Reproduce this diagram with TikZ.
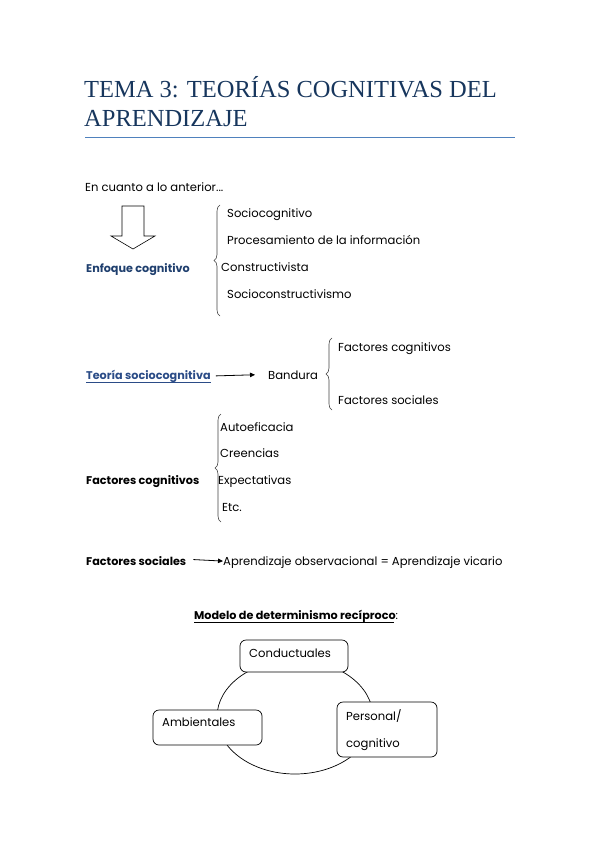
\documentclass[tikz,border=0pt]{standalone}
\usepackage{fontspec}
\setmainfont{Poppins}
\newfontfamily\titlefont{Liberation Serif}
\usetikzlibrary{decorations.pathreplacing,calc,arrows.meta}
\definecolor{titleblue}{HTML}{17365D}
\definecolor{ruleblue}{HTML}{4F81BD}
\definecolor{headblue}{HTML}{1F3F6E}
\definecolor{linkblue}{HTML}{2B4C87}
\begin{document}
\begin{tikzpicture}[x=1pt,y=-1pt,
  txt/.style={inner sep=0pt,anchor=base west,font=\fontsize{11.6}{13}\selectfont},
  btxt/.style={txt,font=\fontsize{11.2}{13}\selectfont\bfseries},
  bracedec/.style={decorate,decoration={brace,amplitude=6pt},line width=0.6pt,black!75},
  conn/.style={-{Triangle[length=5pt,width=4.5pt]},line width=0.8pt},
  boxst/.style={draw,rounded corners=6pt,fill=white,line width=0.7pt}]
\useasboundingbox (0,0) rectangle (599,848);
% title
\node[inner sep=0pt,anchor=base west,font=\titlefont\fontsize{24.5}{30}\selectfont,text=titleblue] (t1) at (84,98) {TEMA 3: TEORÍAS COGNITIVAS DEL};
\node[inner sep=0pt,anchor=base west,font=\titlefont\fontsize{24.5}{30}\selectfont,text=titleblue] (t2) at (84,127) {APRENDIZAJE};
\draw[ruleblue,line width=1pt] (85,137) coordinate (r1) -- (515,137) coordinate (r2);
% section 1
\node[txt] (intro) at (85,191) {En cuanto a lo anterior...};
\draw[line width=0.6pt] (122,206) -- (144,206) -- (144,236) -- (155,236) -- (133,249) -- (111,236) -- (122,236) -- cycle;
\node[btxt,text=headblue] (enf) at (86,272) {Enfoque cognitivo};
\draw[bracedec] (220,316) coordinate (b1s) -- (220,205) coordinate (b1e);
\node[txt] (i1) at (227,217) {Sociocognitivo};
\node[txt] (i2) at (227,244) {Procesamiento de la información};
\node[txt] (i3) at (221,271) {Constructivista};
\node[txt] (i4) at (227,298) {Socioconstructivismo};
% section 2
\node[btxt,text=linkblue] (teo) at (86,379) {Teoría sociocognitiva};
\draw[linkblue,line width=0.6pt] ($(teo.base west)+(0,3)$) -- ($(teo.base east)+(0,3)$);
\node[txt] (band) at (268,379) {Bandura};
\draw[conn] ($(teo.east)+(5,0)$) -- ($(band.west)+(-13,0)$);
\draw[bracedec] (332,410) coordinate (b2s) -- (332,338) coordinate (b2e);
\node[txt] (fc1) at (338,351) {Factores cognitivos};
\node[txt] (fs1) at (338,404) {Factores sociales};
% section 3
\node[btxt] (fc) at (86,484) {Factores cognitivos};
\draw[bracedec] (221,522) coordinate (b3s) -- (221,414) coordinate (b3e);
\node[txt] (a1) at (220,431) {Autoeficacia};
\node[txt] (a2) at (220,457) {Creencias};
\node[txt] (a3) at (218,484) {Expectativas};
\node[txt] (a4) at (222,511) {Etc.};
% section 4
\node[btxt] (fs) at (86,565) {Factores sociales};
\node[txt] (apr) at (223,565) {Aprendizaje observacional = Aprendizaje vicario};
\draw[conn] ($(fs.east)+(7,-1)$) -- ($(apr.west)+(0,-1)$);
% model
\node[btxt] (mod) at (194,619) {Modelo de determinismo recíproco\textmd{:}};
\draw[line width=0.6pt] ($(mod.base west)+(0,3)$) -- ($(mod.base east)+(-4,3)$);
\draw[line width=0.7pt] (295,717) ellipse [x radius=78, y radius=57];
\draw[boxst] (240,640) rectangle (348,672);
\node[txt] (con) at (249,657) {Conductuales};
\draw[boxst] (153,710) rectangle (262,745);
\node[txt] (amb) at (162,726) {Ambientales};
\draw[boxst] (337,702) rectangle (437,757);
\node[txt] (per) at (346,720) {Personal/};
\node[txt] (cog) at (346,747) {cognitivo};
\end{tikzpicture}
\end{document}
